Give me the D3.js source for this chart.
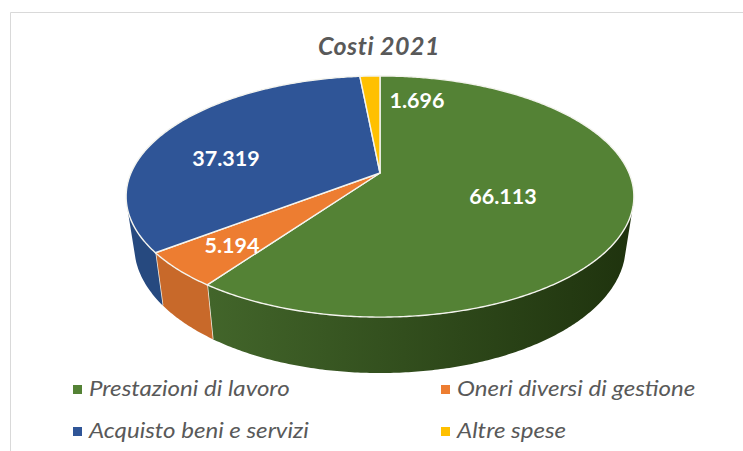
<!DOCTYPE html>
<html>
<head>
<meta charset="utf-8">
<script src="https://cdn.jsdelivr.net/npm/d3@7"></script>
<style>
  html, body { margin: 0; padding: 0; background: #fff; }
  svg { display: block; font-family: Lato, "Open Sans", sans-serif; }
  .title { font-size: 25px; font-weight: 700; font-style: italic; fill: #595959; letter-spacing: 0.5px; }
  .val { font-size: 21.5px; font-weight: 700; fill: #fff; }
  .leg { font-size: 22px; font-style: italic; fill: #595959; }
</style>
</head>
<body>
<svg id="chart" width="743" height="451"></svg>
<script>
const categories = ["Prestazioni di lavoro", "Oneri diversi di gestione", "Acquisto beni e servizi", "Altre spese"];
const values = [66113, 5194, 37319, 1696];
const valueLabels = ["66.113", "5.194", "37.319", "1.696"];
const topColors = ["#548235", "#ED7D31", "#2F5597", "#FFC000"];
const wallColors = [["#42652a", "#1f330e"], ["#c8692a", "#c8692a"], ["#26497f", "#26497f"], ["#c89600", "#c89600"]];

const svg = d3.select("#chart");

// chart frame, cut off by the screenshot on the right and bottom
svg.append("path").attr("d", "M10.5 451V12.5H743").attr("fill", "none").attr("stroke", "#d9d9d9");

const pie = d3.pie().sort(null).value(d => d)(values);

// tilted disc: perspective projection of a unit circle
const persp = 0.195;
const topDisc = { cx: 380, cy: 173, rx: 249, ry: 116 };
const lowDisc = { cx: 380, cy: 221.5, rx: 241, ry: 122 };
function project(disc, a, r = 1) {
  const u = Math.sin(a) * r, v = -Math.cos(a) * r, w = 1 - persp * v;
  return [disc.cx + disc.rx * u / w, disc.cy + disc.ry * v / w];
}
function arcPts(disc, a0, a1) {
  const n = Math.max(2, Math.ceil(Math.abs(a1 - a0) / 0.01));
  return d3.range(n + 1).map(i => project(disc, a0 + (a1 - a0) * i / n));
}
const line = d3.line();
const rad = d3.scaleLinear().domain([0, 180]).range([0, Math.PI]);

// visible part of the side wall, silhouette angles
const wallFrom = rad(107), wallTo = rad(253);

const defs = svg.append("defs");
pie.forEach((d, i) => {
  const a0 = Math.max(d.startAngle, wallFrom), a1 = Math.min(d.endAngle, wallTo);
  if (a1 <= a0) return;
  defs.append("linearGradient").attr("id", "wall" + i).attr("gradientUnits", "userSpaceOnUse")
    .attr("x1", i === 0 ? 210 : 150).attr("x2", i === 0 ? 630 : 215).attr("y1", 0).attr("y2", 0)
    .selectAll("stop").data(wallColors[i]).join("stop")
    .attr("offset", (c, k) => k).attr("stop-color", c => c);
  const pts = arcPts(topDisc, a0, a1).concat(arcPts(lowDisc, a1, a0));
  svg.append("path").attr("d", line(pts) + "Z").attr("fill", `url(#wall${i})`);
  // light edge between neighbouring walls
  if (a1 < wallTo) svg.append("path").attr("d", line([project(topDisc, a1), project(lowDisc, a1)]))
    .attr("stroke", "#f2efe6").attr("stroke-width", 1.5).attr("fill", "none");
});

// top face
pie.forEach((d, i) => {
  const pts = [[topDisc.cx, topDisc.cy]].concat(arcPts(topDisc, d.startAngle, d.endAngle));
  svg.append("path").attr("d", line(pts) + "Z").attr("fill", topColors[i])
    .attr("stroke", "#f4f4ee").attr("stroke-width", 1.4).attr("stroke-linejoin", "round");
});

// value labels
const labelX = [503, 232, 226, 417], labelY = [204, 253, 166, 108];
svg.selectAll("text.val").data(valueLabels).join("text").attr("class", "val")
  .attr("x", (d, i) => labelX[i]).attr("y", (d, i) => labelY[i]).attr("text-anchor", "middle").text(d => d);

svg.append("text").attr("class", "title").attr("x", 379).attr("y", 55).attr("text-anchor", "middle").text("Costi 2021");

// legend, two rows and two columns; the reference text is a bit stretched sideways
const legX = [73, 441], legY = [389, 431];
const legend = svg.selectAll("g.legitem").data(categories).join("g").attr("class", "legitem")
  .attr("transform", (d, i) => `translate(${legX[i % 2]},${legY[i >> 1]})`);
legend.append("rect").attr("y", -4).attr("width", 9).attr("height", 9).attr("fill", (d, i) => topColors[i]);
legend.append("text").attr("class", "leg").attr("transform", "translate(16,7) scale(1.095,1)").text(d => d);
</script>
</body>
</html>
